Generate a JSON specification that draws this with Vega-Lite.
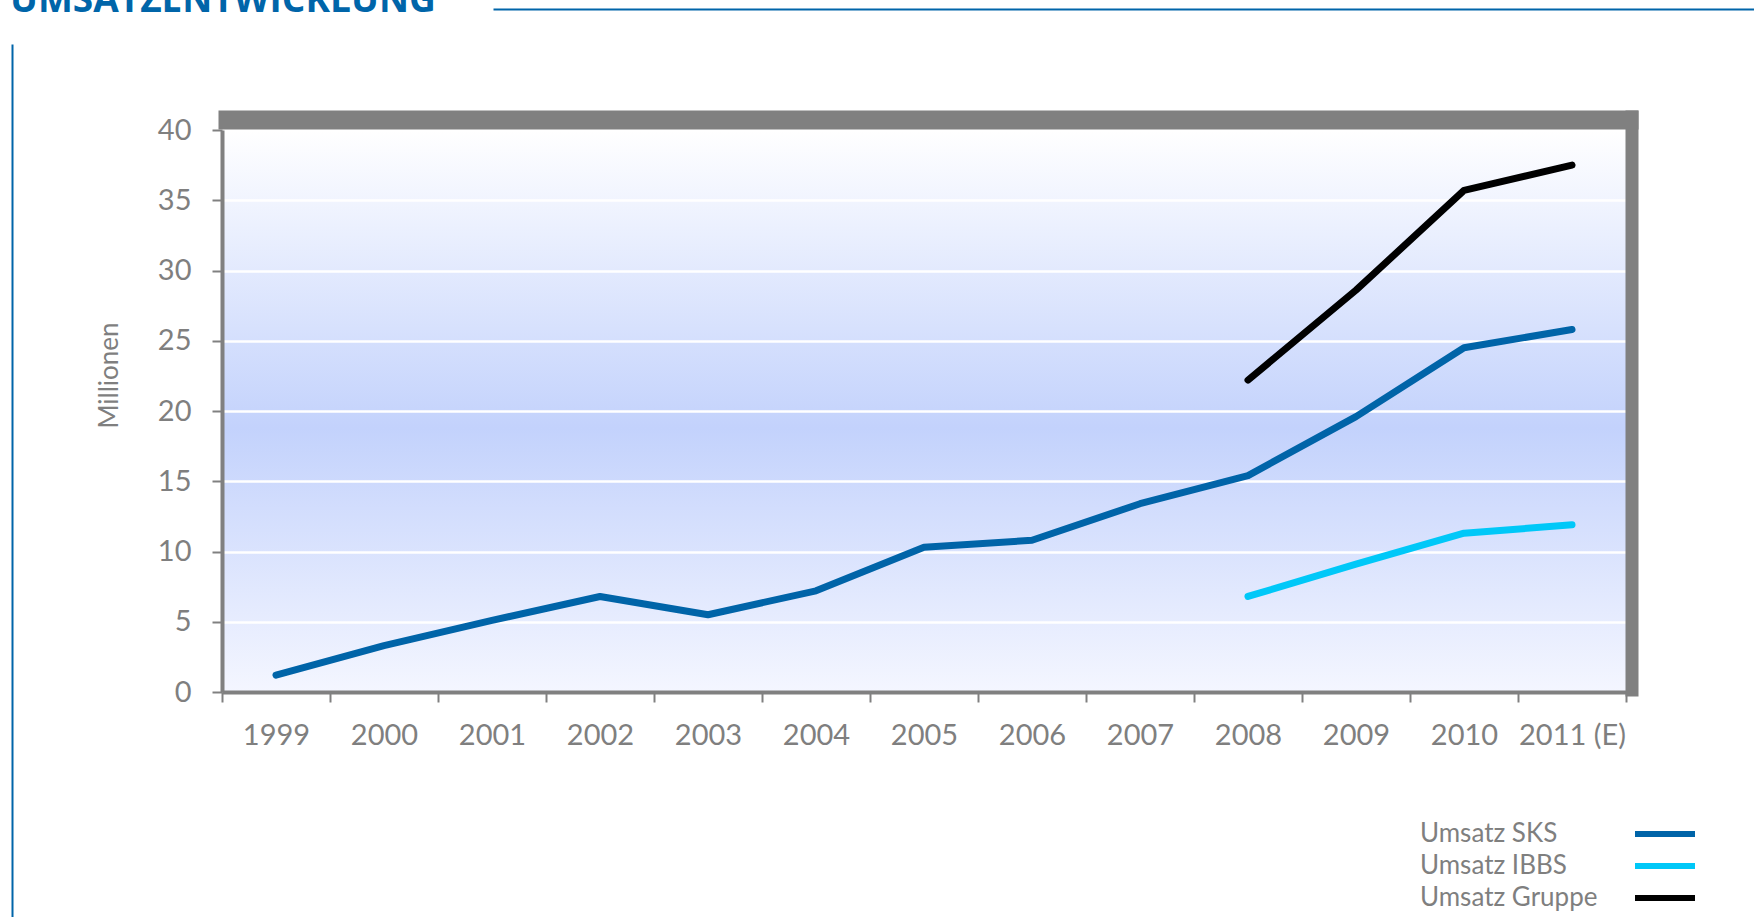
{
  "$schema": "https://vega.github.io/schema/vega-lite/v6.json",
  "autosize": {"type": "none"},
  "padding": {"left": 222, "top": 130, "right": 128, "bottom": 225},
  "width": 1404,
  "height": 562,
  "background": "white",
  "title": {
    "text": "UMSATZENTWICKLUNG",
    "anchor": "start",
    "frame": "group",
    "orient": "top",
    "dx": -212,
    "dy": 37,
    "offset": -3,
    "baseline": "alphabetic",
    "font": "Open Sans",
    "fontSize": 37,
    "fontWeight": "bold",
    "color": "#0065a9"
  },
  "datasets": {
    "umsatz": [
      {"jahr": "1999", "serie": "Umsatz SKS", "wert": 1.2},
      {"jahr": "2000", "serie": "Umsatz SKS", "wert": 3.3},
      {"jahr": "2001", "serie": "Umsatz SKS", "wert": 5.1},
      {"jahr": "2002", "serie": "Umsatz SKS", "wert": 6.8},
      {"jahr": "2003", "serie": "Umsatz SKS", "wert": 5.5},
      {"jahr": "2004", "serie": "Umsatz SKS", "wert": 7.2},
      {"jahr": "2005", "serie": "Umsatz SKS", "wert": 10.3},
      {"jahr": "2006", "serie": "Umsatz SKS", "wert": 10.8},
      {"jahr": "2007", "serie": "Umsatz SKS", "wert": 13.4},
      {"jahr": "2008", "serie": "Umsatz SKS", "wert": 15.4},
      {"jahr": "2009", "serie": "Umsatz SKS", "wert": 19.6},
      {"jahr": "2010", "serie": "Umsatz SKS", "wert": 24.5},
      {"jahr": "2011 (E)", "serie": "Umsatz SKS", "wert": 25.8},
      {"jahr": "2008", "serie": "Umsatz IBBS", "wert": 6.8},
      {"jahr": "2009", "serie": "Umsatz IBBS", "wert": 9.1},
      {"jahr": "2010", "serie": "Umsatz IBBS", "wert": 11.3},
      {"jahr": "2011 (E)", "serie": "Umsatz IBBS", "wert": 11.9},
      {"jahr": "2008", "serie": "Umsatz Gruppe", "wert": 22.2},
      {"jahr": "2009", "serie": "Umsatz Gruppe", "wert": 28.6},
      {"jahr": "2010", "serie": "Umsatz Gruppe", "wert": 35.7},
      {"jahr": "2011 (E)", "serie": "Umsatz Gruppe", "wert": 37.5}
    ],
    "deko": [{"d": 0}]
  },
  "layer": [
    {
      "data": {"name": "umsatz"},
      "mark": {"type": "line", "strokeWidth": 7, "strokeCap": "round", "strokeJoin": "round"},
      "encoding": {
        "x": {
          "field": "jahr",
          "type": "ordinal",
          "scale": {"type": "band", "paddingInner": 0, "paddingOuter": 0,
            "domain": ["1999","2000","2001","2002","2003","2004","2005","2006","2007","2008","2009","2010","2011 (E)"]},
          "axis": {
            "orient": "bottom",
            "title": null,
            "tickBand": "extent",
            "domainColor": "#808080",
            "domainWidth": 4,
            "tickColor": "#808080",
            "tickWidth": 2,
            "tickSize": 10,
            "labelFont": "Lato",
            "labelFontSize": 29,
            "labelColor": "#7f7f7f",
            "labelBaseline": "alphabetic",
            "labelPadding": 42,
            "labelAngle": 0,
            "grid": false
          }
        },
        "y": {
          "field": "wert",
          "type": "quantitative",
          "scale": {"domain": [0, 40], "nice": false, "zero": true},
          "axis": {
            "orient": "left",
            "values": [0, 5, 10, 15, 20, 25, 30, 35, 40],
            "title": "Millionen",
            "titleFont": "Lato",
            "titleFontSize": 26,
            "titleFontWeight": "normal",
            "titleColor": "#7f7f7f",
            "titleAngle": -90,
            "titleX": -113,
            "titleY": 245,
            "titleAlign": "center",
            "titleBaseline": "middle",
            "domainColor": "#808080",
            "domainWidth": 4,
            "tickColor": "#808080",
            "tickWidth": 2,
            "tickSize": 10,
            "labelFont": "Lato",
            "labelFontSize": 29,
            "labelColor": "#7f7f7f",
            "labelPadding": 21,
            "grid": true,
            "gridColor": "#ffffff",
            "gridWidth": 2.5,
            "gridOpacity": 1
          }
        },
        "color": {
          "field": "serie",
          "type": "nominal",
          "scale": {
            "domain": ["Umsatz SKS", "Umsatz IBBS", "Umsatz Gruppe"],
            "range": ["#0064a8", "#00c8f8", "#000000"]
          },
          "legend": {
            "title": null,
            "orient": "none",
            "legendX": 1430,
            "legendY": 691,
            "direction": "vertical",
            "symbolType": "M-5,0H5",
            "symbolSize": 144,
            "symbolStrokeWidth": 6,
            "labelOffset": -258,
            "labelLimit": 400,
            "labelFont": "Lato",
            "labelFontSize": 26,
            "labelColor": "#7f7f7f",
            "rowPadding": 6,
            "padding": 0
          }
        }
      }
    },
    {
      "data": {"name": "umsatz"},
      "mark": {"type": "point", "opacity": 0},
      "encoding": {
        "x": {
          "field": "jahr",
          "type": "ordinal",
          "scale": {"type": "band", "paddingInner": 0, "paddingOuter": 0, "range": [-4, 1416],
            "domain": ["1999","2000","2001","2002","2003","2004","2005","2006","2007","2008","2009","2010","2011 (E)"]},
          "axis": {
            "orient": "top",
            "title": null,
            "labels": false,
            "ticks": false,
            "grid": false,
            "domainColor": "#808080",
            "domainWidth": 19,
            "domainCap": "butt",
            "offset": 10.5
          }
        },
        "y": {
          "field": "wert",
          "type": "quantitative",
          "scale": {"domain": [0, 40], "nice": false, "range": [566, -20]},
          "axis": {
            "orient": "right",
            "title": null,
            "labels": false,
            "ticks": false,
            "grid": false,
            "domainColor": "#808080",
            "domainWidth": 13,
            "domainCap": "butt",
            "offset": 5.5
          }
        }
      }
    },
    {
      "data": {"name": "deko"},
      "mark": {"type": "point", "opacity": 0},
      "encoding": {
        "x": {
          "field": "d",
          "type": "quantitative",
          "scale": {"domain": [0, 1], "range": [271, 1532]},
          "axis": {
            "orient": "top",
            "title": null,
            "labels": false,
            "ticks": false,
            "grid": false,
            "domainColor": "#0065a9",
            "domainWidth": 2,
            "offset": 121
          }
        },
        "y": {
          "field": "d",
          "type": "quantitative",
          "scale": {"domain": [0, 1], "range": [787, -86]},
          "axis": {
            "orient": "left",
            "title": null,
            "labels": false,
            "ticks": false,
            "grid": false,
            "domainColor": "#0065a9",
            "domainWidth": 2,
            "offset": 210
          }
        }
      }
    }
  ],
  "resolve": {"scale": {"x": "independent", "y": "independent"}},
  "config": {
    "view": {
      "stroke": null,
      "fill": {
        "gradient": "linear",
        "x1": 0, "y1": 0, "x2": 0, "y2": 1,
        "stops": [
          {"offset": 0, "color": "#ffffff"},
          {"offset": 0.53, "color": "#c3d2fc"},
          {"offset": 1, "color": "#f4f6ff"}
        ]
      }
    }
  }
}
